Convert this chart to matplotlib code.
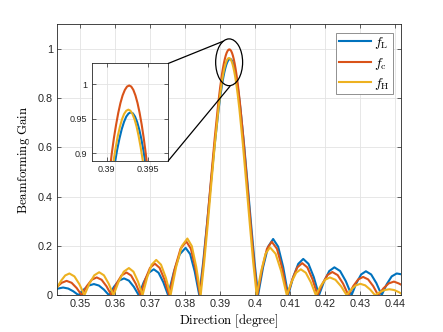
import matplotlib
matplotlib.use("Agg")
import matplotlib.pyplot as plt
from matplotlib.patches import Ellipse, ConnectionPatch
from matplotlib.ticker import FuncFormatter

plt.rcParams["font.family"] = ["Liberation Sans", "DejaVu Sans"]
plt.rcParams["mathtext.fontset"] = "cm"

# ---- data (direction in degree, gain) ----
x_fL = [0.3435, 0.3452, 0.34667, 0.34813, 0.3496,
        0.35107, 0.35253, 0.3540, 0.35543, 0.35687, 0.3583,
        0.35973, 0.36117, 0.3626, 0.3640, 0.3654, 0.3668,
        0.36823, 0.36967, 0.3711, 0.37247, 0.37383, 0.3752,
        0.37687, 0.37853, 0.3802, 0.3815, 0.3828, 0.3841,
        0.3852, 0.3863, 0.3874, 0.3885, 0.3896, 0.39015, 0.3907, 0.39098, 0.39125, 0.39153,
        0.3918, 0.39208, 0.39235, 0.39263, 0.3929, 0.39315, 0.3934, 0.39365, 0.3939, 0.39415,
        0.3944, 0.39465, 0.3949, 0.3954, 0.3959, 0.3969, 0.3979, 0.3989, 0.3999, 0.4009,
        0.40233, 0.40377, 0.4052, 0.40663, 0.40807, 0.4095,
        0.41093, 0.41237, 0.4138, 0.4153, 0.4168, 0.4183,
        0.41977, 0.42123, 0.4227, 0.42433, 0.42597, 0.4276,
        0.42897, 0.43033, 0.4317, 0.4332, 0.4347, 0.4362,
        0.43763, 0.43907, 0.4405, 0.4417]
y_fL = [0.026, 0.031, 0.0268, 0.0155, 0.0,
        0.0225, 0.039, 0.045, 0.039, 0.0225, 0.0,
        0.034, 0.0589, 0.068, 0.0589, 0.034, 0.0,
        0.0525, 0.0909, 0.105, 0.0909, 0.0525, 0.0,
        0.096, 0.1663, 0.192, 0.1663, 0.096, 0.0,
        0.1322, 0.2878, 0.4512, 0.6105, 0.7520, 0.8122, 0.8634, 0.8853, 0.9045, 0.9210,
        0.9345, 0.9452, 0.9529, 0.9575, 0.959, 0.9575, 0.9529, 0.9452, 0.9345, 0.9210,
        0.9045, 0.8853, 0.8634, 0.8122, 0.7520, 0.6105, 0.4512, 0.2878, 0.1322, 0.0,
        0.114, 0.197, 0.228, 0.197, 0.114, 0.0,
        0.0735, 0.127, 0.147, 0.127, 0.0735, 0.0,
        0.0565, 0.0979, 0.113, 0.0979, 0.0565, 0.0,
        0.0485, 0.084, 0.097, 0.084, 0.0485, 0.0,
        0.044, 0.0762, 0.088, 0.085]

x_fc = [0.3435, 0.3448, 0.3462, 0.34763, 0.34907, 0.3505,
        0.35193, 0.35337, 0.3548, 0.3562, 0.3576, 0.3590,
        0.36043, 0.36187, 0.3633, 0.36463, 0.36597, 0.3673,
        0.36867, 0.37003, 0.3714, 0.37277, 0.37413, 0.3755,
        0.37713, 0.37877, 0.3804, 0.3817, 0.3830, 0.3843,
        0.38535, 0.3864, 0.38745, 0.3885, 0.38955, 0.39008, 0.3906, 0.39086, 0.39113, 0.39139,
        0.39165, 0.39191, 0.39218, 0.39244, 0.3927, 0.39295, 0.3932, 0.39345, 0.3937, 0.39395,
        0.3942, 0.39445, 0.3947, 0.3952, 0.3957, 0.3967, 0.3977, 0.3987, 0.3997, 0.4007,
        0.40207, 0.40343, 0.4048, 0.4063, 0.4078, 0.4093,
        0.4107, 0.4121, 0.4135, 0.41497, 0.41643, 0.4179,
        0.4193, 0.4207, 0.4221, 0.42363, 0.42517, 0.4267,
        0.4281, 0.4295, 0.4309, 0.43233, 0.43377, 0.4352,
        0.4367, 0.4382, 0.4397, 0.4410, 0.4417]
y_fc = [0.034, 0.0502, 0.058, 0.0502, 0.029, 0.0,
        0.036, 0.0624, 0.072, 0.0624, 0.036, 0.0,
        0.046, 0.0797, 0.092, 0.0797, 0.046, 0.0,
        0.064, 0.1108, 0.128, 0.1108, 0.064, 0.0,
        0.109, 0.1888, 0.218, 0.1888, 0.109, 0.0,
        0.1376, 0.2995, 0.4696, 0.6353, 0.7826, 0.8452, 0.8985, 0.9213, 0.9413, 0.9584,
        0.9726, 0.9836, 0.9916, 0.9964, 0.998, 0.9964, 0.9916, 0.9836, 0.9726, 0.9584,
        0.9413, 0.9213, 0.8985, 0.8452, 0.7826, 0.6353, 0.4696, 0.2995, 0.1376, 0.0,
        0.1085, 0.188, 0.217, 0.188, 0.1085, 0.0,
        0.065, 0.1126, 0.130, 0.1126, 0.065, 0.0,
        0.047, 0.0814, 0.094, 0.0814, 0.047, 0.0,
        0.037, 0.064, 0.074, 0.064, 0.037, 0.0,
        0.0275, 0.0476, 0.055, 0.048, 0.043]

x_fH = [0.3435, 0.3447, 0.3458, 0.3470, 0.34843, 0.34987, 0.3513,
        0.3527, 0.3541, 0.3555, 0.35687, 0.35823, 0.3596,
        0.36107, 0.36253, 0.3640, 0.3653, 0.3666, 0.3679,
        0.3692, 0.3705, 0.3718, 0.37317, 0.37453, 0.3759,
        0.3775, 0.3791, 0.3807, 0.38197, 0.38323, 0.3845,
        0.3855, 0.38653, 0.38754, 0.38855, 0.38956, 0.39007, 0.39058, 0.39083, 0.39108, 0.39133,
        0.39159, 0.39184, 0.39209, 0.39235, 0.3926, 0.39285, 0.39309, 0.39334, 0.39359, 0.39383,
        0.39408, 0.39433, 0.39458, 0.39507, 0.39556, 0.39655, 0.39754, 0.39853, 0.39951, 0.4005,
        0.40177, 0.40303, 0.4043, 0.4059, 0.4075, 0.4091,
        0.41043, 0.41177, 0.4131, 0.41453, 0.41597, 0.4174,
        0.41873, 0.42007, 0.4214, 0.4230, 0.4246, 0.4262,
        0.4275, 0.4288, 0.4301, 0.4315, 0.4329, 0.4343,
        0.43567, 0.43703, 0.4384, 0.43977, 0.44113, 0.4417]
y_fH = [0.032, 0.06, 0.08, 0.088, 0.0762, 0.044, 0.0,
        0.0465, 0.0805, 0.093, 0.0805, 0.0465, 0.0,
        0.055, 0.0953, 0.110, 0.0953, 0.055, 0.0,
        0.0715, 0.1238, 0.143, 0.1238, 0.0715, 0.0,
        0.115, 0.1992, 0.230, 0.1992, 0.115, 0.0,
        0.1328, 0.2890, 0.4531, 0.6130, 0.7552, 0.8156, 0.8670, 0.8890, 0.9083, 0.9248,
        0.9384, 0.9491, 0.9568, 0.9614, 0.963, 0.9614, 0.9568, 0.9491, 0.9384, 0.9248,
        0.9083, 0.8890, 0.8670, 0.8156, 0.7552, 0.6130, 0.4531, 0.2890, 0.1328, 0.0,
        0.097, 0.168, 0.194, 0.168, 0.097, 0.0,
        0.0525, 0.0909, 0.105, 0.0909, 0.0525, 0.0,
        0.036, 0.0624, 0.072, 0.0624, 0.036, 0.0,
        0.023, 0.0398, 0.046, 0.0398, 0.023, 0.0,
        0.012, 0.0208, 0.024, 0.0208, 0.012, 0.007]

series = [(x_fL, y_fL, r"$f_\mathrm{L}$", "#0072BD"),
          (x_fc, y_fc, r"$f_\mathrm{c}$", "#D95319"),
          (x_fH, y_fH, r"$f_\mathrm{H}$", "#EDB120")]

xticks = [0.35, 0.36, 0.37, 0.38, 0.39, 0.40, 0.41, 0.42, 0.43, 0.44]
yticks = [0, 0.2, 0.4, 0.6, 0.8, 1.0]
inset_xticks = [0.39, 0.395]
inset_yticks = [0.9, 0.95, 1.0]

fmt = FuncFormatter(lambda v, p: f"{v:g}")
edge = "#262626"


def style(ax, fs):
    ax.grid(True, color="#e3e3e3", lw=0.6)
    ax.set_axisbelow(True)
    ax.tick_params(direction="in", top=True, right=True, length=3, width=0.5,
                   labelsize=fs, colors=edge, pad=3)
    for s in ax.spines.values():
        s.set_color(edge)
        s.set_linewidth(0.6)
    ax.xaxis.set_major_formatter(fmt)
    ax.yaxis.set_major_formatter(fmt)


fig = plt.figure(figsize=(4.43, 3.32), dpi=100)
ax = fig.add_axes([0.129, 0.111, 0.776, 0.816])
for xs, ys, lab, col in series:
    ax.plot(xs, ys, color=col, lw=1.5, label=lab)
ax.set_xlim(0.3435, 0.4417)
ax.set_ylim(0, 1.1)
ax.set_xticks(xticks)
ax.set_yticks(yticks)
style(ax, 7.8)
ax.set_xlabel(r"$\mathrm{Direction\ [degree]}$", fontsize=9.3, labelpad=2)
ax.set_ylabel(r"$\mathrm{Beamforming\ Gain}$", fontsize=9.3, labelpad=4)

leg = ax.legend(loc="upper right", fontsize=10, fancybox=False, framealpha=1,
                edgecolor="#7f7f7f", handlelength=2.3, borderaxespad=0.6,
                labelspacing=0.3, handletextpad=0.25, borderpad=0.2)
leg.get_frame().set_linewidth(0.6)

# ellipse around the main peak
ax.add_patch(Ellipse((0.39263, 0.9455), 0.0077, 0.19, fill=False, ec="black", lw=0.9, zorder=5))

# inset
axi = fig.add_axes([0.207, 0.516, 0.173, 0.293])
for xs, ys, lab, col in series:
    axi.plot(xs, ys, color=col, lw=1.5)
axi.set_xlim(0.3882, 0.3974)
axi.set_ylim(0.889, 1.03)
axi.set_xticks(inset_xticks)
axi.set_yticks(inset_yticks)
style(axi, 6.5)

for (ix, iy), (dx, dy) in [((1, 1), (0.39094, 1.031)), ((1, 0), (0.39286, 0.848))]:
    con = ConnectionPatch(xyA=(ix, iy), coordsA=axi.transAxes, xyB=(dx, dy), coordsB=ax.transData,
                          color="black", lw=0.9)
    fig.add_artist(con)

fig.savefig("out.png", dpi=100)
